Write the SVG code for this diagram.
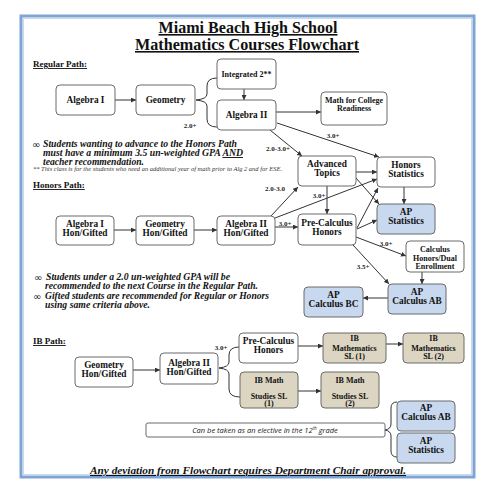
<svg xmlns="http://www.w3.org/2000/svg" width="495" height="495" viewBox="0 0 495 495">
<style>
.box{fill:#fff;stroke:#6b6b6b;stroke-width:1}
.blue{fill:#c8d8ee;stroke:#6b6b6b;stroke-width:1}
.tan{fill:#dcd5c1;stroke:#6b6b6b;stroke-width:1}
.t{font-family:"Liberation Serif","Times New Roman",serif;font-weight:bold;font-size:9.3px;text-anchor:middle;fill:#111}
.ts{font-family:"Liberation Serif","Times New Roman",serif;font-weight:bold;font-size:8px;text-anchor:middle;fill:#111}
.lbl{font-family:"Liberation Serif","Times New Roman",serif;font-weight:bold;font-size:7px;text-anchor:middle;fill:#222}
.note{font-family:"Liberation Serif","Times New Roman",serif;font-weight:bold;font-style:italic;font-size:9.5px;fill:#111}
.inf{font-family:"DejaVu Sans",sans-serif;font-size:10px;fill:#111}
.hdr{font-family:"Liberation Serif","Times New Roman",serif;font-weight:bold;font-size:9px;fill:#111;text-decoration:underline}
.title{font-family:"Liberation Serif","Times New Roman",serif;font-weight:bold;font-size:16px;text-anchor:middle;fill:#111;text-decoration:underline}
.c{fill:none;stroke:#333;stroke-width:1}
.a{fill:none;stroke:#333;stroke-width:1;marker-end:url(#ah)}
</style>
<defs>
<marker id="ah" markerWidth="6" markerHeight="5" refX="5" refY="2.5" orient="auto" markerUnits="userSpaceOnUse">
<path d="M0,0 L5,2.5 L0,5 Z" fill="#333"/>
</marker>
</defs>
<rect x="0" y="0" width="495" height="495" fill="#fff"/>
<rect x="21" y="16" width="453" height="461" fill="#fff" stroke="#7ea5d4" stroke-width="3"/>
<rect x="23.5" y="18.5" width="448" height="456" fill="none" stroke="#c9d9ee" stroke-width="1"/>

<text class="title" x="248" y="33" textLength="179" lengthAdjust="spacingAndGlyphs">Miami Beach High School</text>
<text class="title" x="247" y="50" textLength="224" lengthAdjust="spacingAndGlyphs">Mathematics Courses Flowchart</text>

<text class="hdr" x="33" y="67">Regular Path:</text>
<text class="hdr" x="33" y="188">Honors Path:</text>
<text class="hdr" x="33" y="344">IB Path:</text>

<text class="inf" x="32" y="147.5">∞</text>
<text class="note" x="43" y="147" textLength="194" lengthAdjust="spacingAndGlyphs">Students wanting to advance to the Honors Path</text>
<text class="note" x="43" y="156" textLength="200" lengthAdjust="spacingAndGlyphs">must have a minimum 3.5 un-weighted GPA <tspan text-decoration="underline">AND</tspan></text>
<text class="note" x="43" y="165" textLength="101" lengthAdjust="spacingAndGlyphs">teacher recommendation.</text>
<text x="33" y="171" font-family="Liberation Serif, serif" font-style="italic" font-size="5.5" fill="#333" textLength="249" lengthAdjust="spacingAndGlyphs">** This class is for the students who need an additional year of math prior to Alg 2 and for ESE.</text>

<text class="inf" x="34" y="280.5">∞</text>
<text class="note" x="46" y="280" textLength="184" lengthAdjust="spacingAndGlyphs">Students under a 2.0 un-weighted GPA will be</text>
<text class="note" x="45" y="289" textLength="213" lengthAdjust="spacingAndGlyphs">recommended to the next Course in the Regular Path.</text>
<text class="inf" x="33" y="299.5">∞</text>
<text class="note" x="45" y="299" textLength="224" lengthAdjust="spacingAndGlyphs">Gifted students are recommended for Regular or Honors</text>
<text class="note" x="45" y="308" textLength="105" lengthAdjust="spacingAndGlyphs">using same criteria above.</text>

<g id="connectors">
<line class="a" x1="115" y1="100" x2="136" y2="100"/>
<path class="c" d="M217,78 Q207,78 207,86 L207,94 Q207,99 196,100 Q207,101 207,106 L207,119 Q207,127 217,127"/>
<line class="a" x1="244" y1="89" x2="244" y2="100"/>
<line class="a" x1="276" y1="112" x2="321" y2="112"/>
<line class="a" x1="270" y1="130" x2="302" y2="156"/>
<line class="a" x1="277" y1="123" x2="379" y2="157"/>
<line class="a" x1="356" y1="172" x2="377" y2="172"/>
<line class="a" x1="356" y1="178" x2="379" y2="204"/>
<line class="a" x1="404" y1="187" x2="404" y2="204"/>
<line class="a" x1="327" y1="186" x2="327" y2="214"/>
<line class="a" x1="114" y1="230" x2="136" y2="230"/>
<line class="a" x1="194" y1="230" x2="217" y2="230"/>
<line class="a" x1="271" y1="216" x2="298" y2="187"/>
<line class="a" x1="275" y1="218" x2="377" y2="179"/>
<line class="a" x1="275" y1="227" x2="298" y2="227"/>
<line class="a" x1="357" y1="228" x2="378" y2="188"/>
<line class="a" x1="357" y1="229" x2="377" y2="220"/>
<line class="a" x1="356" y1="237" x2="406" y2="256"/>
<line class="a" x1="353" y1="245" x2="389" y2="284"/>
<line class="a" x1="422" y1="272" x2="422" y2="284"/>
<line class="a" x1="388" y1="298" x2="363" y2="298"/>
<line class="a" x1="133" y1="370" x2="160" y2="370"/>
<path class="c" d="M239,347 Q229,347 229,355 L229,362 Q229,367 219,368 Q229,369 229,374 L229,389 Q229,397 240,397"/>
<line class="a" x1="298" y1="346" x2="323" y2="346"/>
<line class="a" x1="386" y1="344" x2="403" y2="344"/>
<line class="a" x1="298" y1="391" x2="321" y2="391"/>
<path class="c" d="M397,402 Q391,402 391,408 L391,424 Q391,429 385,430 Q391,431 391,436 L391,451 Q391,457 397,457"/>
<text class="lbl" x="190" y="127.5">2.0+</text>
<text class="lbl" x="333" y="137.5">3.0+</text>
<text class="lbl" x="278" y="150.5">2.0-3.0+</text>
<text class="lbl" x="275" y="190.5">2.0-3.0</text>
<text class="lbl" x="319" y="197.5">3.0+</text>
<text class="lbl" x="285" y="226">3.0+</text>
<text class="lbl" x="386" y="245.5">3.0+</text>
<text class="lbl" x="363" y="268.5">3.5+</text>
<text class="lbl" x="221" y="349.5">3.0+</text>
</g>

<g id="n-alg1"><rect class="box" x="56" y="85" width="59" height="30" rx="4"/><text class="t" x="85.5" y="103">Algebra I</text></g>
<g id="n-geom"><rect class="box" x="136" y="85" width="59" height="30" rx="4"/><text class="t" x="165.5" y="103">Geometry</text></g>
<g id="n-int2"><rect class="box" x="217" y="59" width="59" height="30" rx="4"/><text class="ts" x="246.5" y="76.5">Integrated 2**</text></g>
<g id="n-alg2"><rect class="box" x="217" y="100" width="59" height="30" rx="4"/><text class="t" x="246.5" y="118">Algebra II</text></g>
<g id="n-mcr"><rect class="box" x="321" y="92" width="66" height="33" rx="4"/><text class="ts" x="354" y="103">Math for College</text><text class="ts" x="354" y="110.5">Readiness</text></g>
<g id="n-adv"><rect class="box" x="298" y="156" width="58" height="30" rx="4"/><text class="t" x="327" y="167">Advanced</text><text class="t" x="327" y="175.5">Topics</text></g>
<g id="n-hstat"><rect class="box" x="377" y="157" width="58" height="30" rx="4"/><text class="t" x="406" y="168">Honors</text><text class="t" x="406" y="176.5">Statistics</text></g>
<g id="n-apstat"><rect class="blue" x="377" y="204" width="58" height="30" rx="4"/><text class="t" x="406" y="215">AP</text><text class="t" x="406" y="224">Statistics</text></g>
<g id="n-alg1h"><rect class="box" x="56" y="216" width="58" height="29" rx="4"/><text class="t" x="85" y="226.5">Algebra I</text><text class="t" x="85" y="235.5">Hon/Gifted</text></g>
<g id="n-geomh"><rect class="box" x="136" y="216" width="58" height="29" rx="4"/><text class="t" x="165" y="226.5">Geometry</text><text class="t" x="165" y="235.5">Hon/Gifted</text></g>
<g id="n-alg2h"><rect class="box" x="217" y="216" width="58" height="29" rx="4"/><text class="t" x="246" y="226.5">Algebra II</text><text class="t" x="246" y="235.5">Hon/Gifted</text></g>
<g id="n-prec"><rect class="box" x="298" y="214" width="58" height="31" rx="4"/><text class="t" x="327" y="226">Pre-Calculus</text><text class="t" x="327" y="234.5">Honors</text></g>
<g id="n-calch"><rect class="box" x="406" y="241" width="58" height="31" rx="4"/><text class="ts" x="435" y="252">Calculus</text><text class="ts" x="435" y="260.5">Honors/Dual</text><text class="ts" x="435" y="269">Enrollment</text></g>
<g id="n-apab"><rect class="blue" x="388" y="284" width="58" height="30" rx="4"/><text class="t" x="417" y="295">AP</text><text class="t" x="417" y="304">Calculus AB</text></g>
<g id="n-apbc"><rect class="blue" x="304" y="287" width="59" height="30" rx="4"/><text class="t" x="333.5" y="297.5">AP</text><text class="t" x="333.5" y="306.5">Calculus BC</text></g>
<g id="n-ibgeom"><rect class="box" x="75" y="357" width="58" height="30" rx="4"/><text class="t" x="104" y="368">Geometry</text><text class="t" x="104" y="376.5">Hon/Gifted</text></g>
<g id="n-ibalg2"><rect class="box" x="160" y="353" width="58" height="31" rx="4"/><text class="t" x="189" y="366">Algebra II</text><text class="t" x="189" y="374.5">Hon/Gifted</text></g>
<g id="n-ibprec"><rect class="box" x="239" y="333" width="59" height="30" rx="4"/><text class="t" x="268.5" y="344">Pre-Calculus</text><text class="t" x="268.5" y="352.5">Honors</text></g>
<g id="n-ibsl1"><rect class="tan" x="323" y="333" width="63" height="30" rx="4"/><text class="ts" x="354.5" y="340.5">IB</text><text class="ts" x="354.5" y="350.5">Mathematics</text><text class="ts" x="354.5" y="359">SL (1)</text></g>
<g id="n-ibsl2"><rect class="tan" x="403" y="333" width="61" height="30" rx="4"/><text class="ts" x="433.5" y="340.5">IB</text><text class="ts" x="433.5" y="350.5">Mathematics</text><text class="ts" x="433.5" y="359">SL (2)</text></g>
<g id="n-ibms1"><rect class="tan" x="240" y="372" width="58" height="36" rx="4"/><text class="ts" x="269" y="383">IB Math</text><text class="ts" x="269" y="398.5">Studies SL</text><text class="ts" x="269" y="406">(1)</text></g>
<g id="n-ibms2"><rect class="tan" x="321" y="372" width="58" height="36" rx="4"/><text class="ts" x="350" y="383">IB Math</text><text class="ts" x="350" y="398.5">Studies SL</text><text class="ts" x="350" y="406">(2)</text></g>
<g id="n-elective"><rect class="box" x="146" y="423" width="239" height="14" rx="2"/><text x="265" y="432.5" font-family="Open Sans, Liberation Sans, sans-serif" font-style="italic" font-size="7.5" text-anchor="middle" fill="#222">Can be taken as an elective in the 12<tspan font-size="4.5" dy="-3">th</tspan><tspan dy="3"> grade</tspan></text></g>
<g id="n-apab2"><rect class="blue" x="397" y="401" width="58" height="30" rx="4"/><text class="t" x="426" y="411">AP</text><text class="t" x="426" y="420">Calculus AB</text></g>
<g id="n-apstat2"><rect class="blue" x="397" y="433" width="58" height="30" rx="4"/><text class="t" x="426" y="444">AP</text><text class="t" x="426" y="453">Statistics</text></g>

<text x="248" y="474" font-family="Liberation Serif, serif" font-weight="bold" font-style="italic" font-size="10.5" text-anchor="middle" fill="#111" text-decoration="underline" textLength="316" lengthAdjust="spacingAndGlyphs">Any deviation from Flowchart requires Department Chair approval.</text>
</svg>
